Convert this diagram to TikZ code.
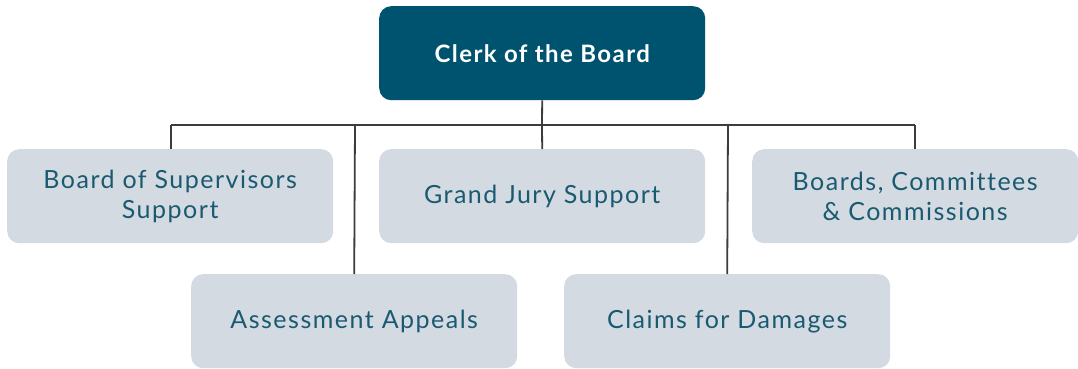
\documentclass[tikz,border=0pt]{standalone}
\usepackage{fontspec}
\setmainfont{Lato}[LetterSpace=6,Ligatures={NoCommon,NoRequired,NoContextual}]
\definecolor{teal}{HTML}{00536E}
\definecolor{boxfill}{HTML}{D3DAE2}
\definecolor{txt}{HTML}{1A5A70}
\definecolor{linec}{HTML}{3C3C3C}
\begin{document}
\begin{tikzpicture}[x=1pt,y=-1pt,
  unit/.style={draw=none, fill=boxfill, rounded corners=12pt, minimum width=326pt, minimum height=94pt, text=txt, font=\fontsize{25}{30}\selectfont, align=center, inner sep=0pt, anchor=north west},
  head/.style={unit, fill=teal, text=white, font=\fontsize{24}{30}\selectfont\bfseries},
  conn/.style={draw=linec, line width=1.8pt}]
\useasboundingbox (0,0) rectangle (1078,369);
\node[head] (top) at (379,6) {Clerk of the Board};
\node[unit] (bos) at (7,149) {Board of Supervisors\\Support};
\node[unit] (gj) at (379,149) {Grand Jury Support};
\node[unit] (bcc) at (752,149) {Boards, Commit\kern1.5pt tees\\\& Commissions};
\node[unit] (aa) at (191,274) {Assessment Appeals};
\node[unit] (cd) at (564,274) {Claims for Damages};
\coordinate (bus) at (542,125);
\coordinate (busL) at (171,125);
\coordinate (busR) at (915,125);
\draw[conn] (top.south) -- (bus);
\draw[conn] (busL) -- (busR);
\draw[conn] (busL) -- (busL |- bos.north);
\draw[conn] (bus) -- (gj.north);
\draw[conn] (busR) -- (busR |- bcc.north);
\draw[conn] (355,125) -- (aa.north);
\draw[conn] (728,125) -- (cd.north);
\end{tikzpicture}
\end{document}
